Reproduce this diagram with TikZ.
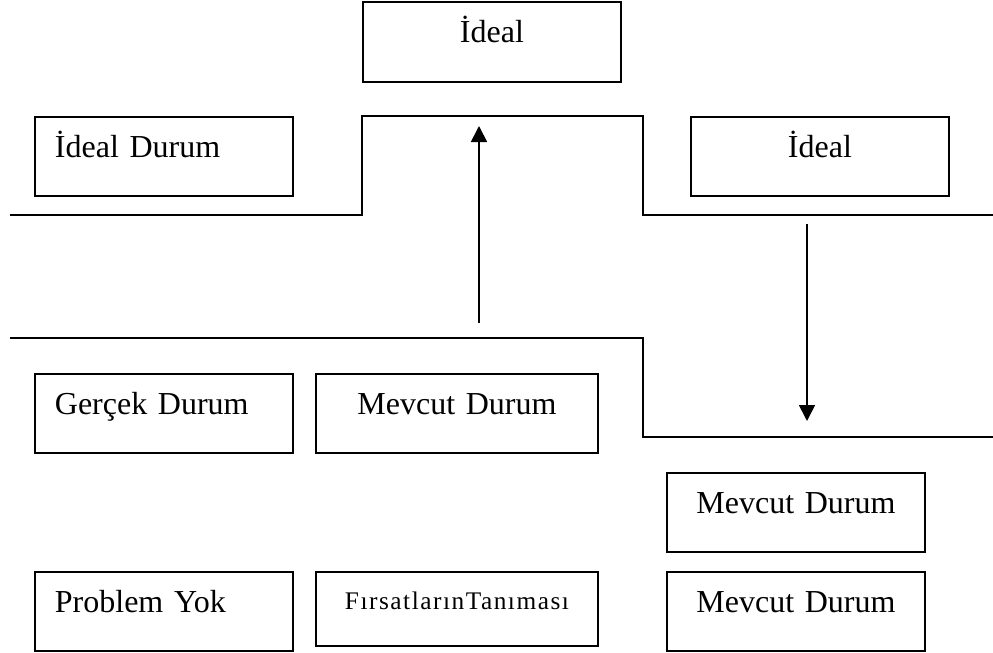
\documentclass[tikz,border=0pt]{standalone}
\usepackage{fontspec}
\setmainfont{Liberation Serif}
\usetikzlibrary{arrows.meta}
\begin{document}
\begin{tikzpicture}[x=0.75pt,y=-0.75pt,
  box/.style={draw, line width=1.4pt, inner sep=0pt, anchor=north west,
    font=\fontsize{24}{28}\selectfont, text height=30.75pt, text depth=28.5pt},
  lbox/.style={box, align=left, inner xsep=15pt, text width=163.5pt},
  cbox/.style={box, align=center, text width=193.5pt},
  wbox/.style={box, align=center, text width=211.5pt},
  stepline/.style={line width=1.4pt},
  arr/.style={line width=1.3pt, -{Triangle[width=12pt,length=12pt]}}
]
\useasboundingbox (0,0) rectangle (993,653);

% boxes
\node[cbox, text height=30.75pt, text depth=29.25pt] (topideal) at (362,1) {İdeal};
\node[lbox] (idealdurum) at (34,116) {İdeal Durum};
\node[cbox] (rightideal) at (690,116) {İdeal};
\node[lbox] (gercek) at (34,373) {Gerçek Durum};
\node[wbox] (mevcutmid) at (315,373) {Mevcut Durum};
\node[cbox] (mevcutr1) at (666,472) {Mevcut Durum};
\node[cbox] (mevcutr2) at (666,571) {Mevcut Durum};
\node[lbox] (problem) at (34,571) {Problem Yok};
\node[wbox, text height=28.5pt, text depth=27pt,
  font=\fontsize{19}{23}\selectfont\addfontfeature{LetterSpace=6}] (firsat) at (315,571) {FırsatlarınTanıması};

% step lines
\coordinate (uL) at (10,215);
\coordinate (uA) at (362,215);
\coordinate (uB) at (362,116);
\coordinate (uC) at (643,116);
\coordinate (uD) at (643,215);
\coordinate (uR) at (993,215);
\draw[stepline] (uL) -- (uA) -- (uB) -- (uC) -- (uD) -- (uR);

\coordinate (lL) at (10,338);
\coordinate (lA) at (643,338);
\coordinate (lB) at (643,437);
\coordinate (lR) at (993,437);
\draw[stepline] (lL) -- (lA) -- (lB) -- (lR);

% arrows
\coordinate (upS) at (479,323);
\coordinate (upE) at (479,126);
\draw[arr] (upS) -- (upE);
\coordinate (dnS) at (807,224);
\coordinate (dnE) at (807,421);
\draw[arr] (dnS) -- (dnE);
\end{tikzpicture}
\end{document}
